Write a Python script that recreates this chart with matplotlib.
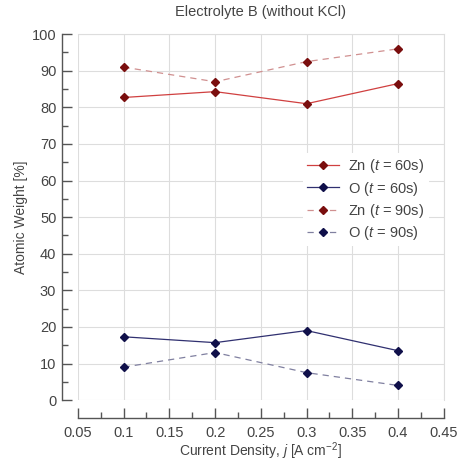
import matplotlib
matplotlib.use('Agg')
import matplotlib.pyplot as plt

plt.rcParams['font.family'] = ['Liberation Sans', 'DejaVu Sans']
plt.rcParams['mathtext.fontset'] = 'custom'
plt.rcParams['mathtext.it'] = 'Liberation Sans:italic'
plt.rcParams['mathtext.rm'] = 'Liberation Sans'

current_density = [0.1, 0.2, 0.3, 0.4]
zn_60s = [82.7, 84.3, 81.0, 86.5]
o_60s = [17.3, 15.7, 19.0, 13.5]
zn_90s = [91.0, 87.0, 92.5, 96.0]
o_90s = [9.0, 13.0, 7.5, 4.0]

red_line = '#d04040'
red_mark = '#7a0e0e'
blue_line = '#303070'
blue_mark = '#10104a'
text_col = '#444444'

fig = plt.figure(figsize=(4.58, 4.62), dpi=100)
ax = fig.add_axes([0.170, 0.134, 0.799, 0.792])

ax.plot(current_density, zn_60s, '-', color=red_line, lw=0.9, marker='D', ms=4.5,
        mfc=red_mark, mec=red_mark, label='Zn ($t$ = 60s)')
ax.plot(current_density, o_60s, '-', color=blue_line, lw=0.9, marker='D', ms=4.5,
        mfc=blue_mark, mec=blue_mark, label='O ($t$ = 60s)')
ax.plot(current_density, zn_90s, '--', color='#d09090', lw=0.9, marker='D', ms=4.5,
        mfc=red_mark, mec=red_mark, dashes=(5, 4), label='Zn ($t$ = 90s)')
ax.plot(current_density, o_90s, '--', color='#8080a0', lw=0.9, marker='D', ms=4.5,
        mfc=blue_mark, mec=blue_mark, dashes=(5, 4), label='O ($t$ = 90s)')

ax.set_xlim(0.05, 0.45)
ax.set_ylim(0, 100)
ax.set_xticks([0.05, 0.1, 0.15, 0.2, 0.25, 0.3, 0.35, 0.4, 0.45])
ax.set_xticklabels(['0.05', '0.1', '0.15', '0.2', '0.25', '0.3', '0.35', '0.4', '0.45'])
ax.set_xticks([0.075, 0.125, 0.175, 0.225, 0.275, 0.325, 0.375, 0.425], minor=True)
ax.set_yticks(range(0, 101, 10))
ax.set_yticks(range(5, 100, 10), minor=True)

ax.grid(True, which='major', color='#dddddd', lw=0.8)
ax.set_axisbelow(True)

for s in ['top', 'right']:
    ax.spines[s].set_color('#dddddd')
    ax.spines[s].set_linewidth(0.8)
ax.spines['left'].set_position(('outward', 11.5))
ax.spines['bottom'].set_position(('outward', 13))
for s in ['left', 'bottom']:
    ax.spines[s].set_color('#555555')
    ax.spines[s].set_linewidth(1.0)

ax.tick_params(which='both', direction='in', colors='#555555', labelcolor=text_col,
               labelsize=10.5, top=False, right=False)
ax.tick_params(which='major', length=7, width=1.0)
ax.tick_params(axis='x', which='major', pad=6)
ax.tick_params(axis='y', which='major', pad=4)
ax.tick_params(which='minor', length=4, width=1.0)

ax.set_xlabel('Current Density, $j$ [A cm$^{-2}$]', fontsize=10, color=text_col, labelpad=0)
ax.set_ylabel('Atomic Weight [%]', fontsize=10, color=text_col, labelpad=3)
ax.set_title('Electrolyte B (without KCl)', fontsize=10.5, color=text_col, pad=13)

leg = ax.legend(loc='upper left', bbox_to_anchor=(0.595, 0.695), frameon=True,
                fontsize=10.5, handlelength=2.2, handletextpad=0.6,
                labelspacing=0.28, borderpad=0.3)
leg.get_frame().set_facecolor('white')
leg.get_frame().set_edgecolor('none')
leg.get_frame().set_alpha(1)
for t in leg.get_texts():
    t.set_color(text_col)

fig.savefig('out.png', dpi=100)
